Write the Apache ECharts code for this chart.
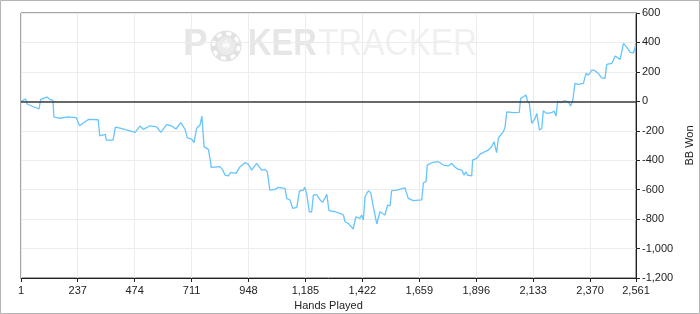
<!DOCTYPE html>
<html>
<head>
<meta charset="utf-8">
<script src="https://cdn.jsdelivr.net/npm/echarts@6/dist/echarts.min.js"></script>
<style>
html,body{margin:0;padding:0;background:#fff;}
#chart{width:700px;height:314px;}
</style>
</head>
<body>
<div id="chart"></div>
<script>
// ---- data ----
const hands = [1,20,26,76,83,109,123,134,138,162,197,231,245,259,283,322,329,352,356,384,394,418,446,476,496,510,538,566,583,608,628,646,666,684,693,712,721,732,746,754,763,781,791,792,829,841,850,864,874,896,913,933,947,961,982,1003,1017,1026,1037,1058,1072,1100,1107,1121,1132,1149,1160,1176,1182,1190,1201,1211,1218,1232,1246,1257,1274,1283,1308,1329,1343,1350,1363,1384,1395,1412,1419,1426,1433,1447,1457,1468,1482,1495,1516,1527,1537,1544,1565,1599,1613,1634,1669,1676,1687,1692,1711,1738,1759,1780,1794,1808,1822,1836,1845,1853,1859,1877,1881,1898,1912,1933,1946,1960,1970,1981,1988,1995,2009,2016,2023,2051,2075,2081,2092,2103,2109,2117,2127,2141,2148,2159,2169,2175,2189,2210,2220,2228,2235,2248,2262,2279,2289,2298,2307,2321,2342,2353,2363,2377,2390,2404,2418,2432,2439,2460,2467,2474,2495,2509,2523,2537,2551,2558,2561];
const bbWon = [0,16,-18,-52,14,29,11,7,-105,-115,-105,-111,-166,-149,-122,-125,-234,-224,-263,-263,-175,-183,-197,-211,-168,-190,-166,-173,-211,-156,-168,-188,-145,-190,-247,-258,-281,-183,-161,-100,-308,-326,-419,-448,-444,-467,-501,-507,-482,-489,-444,-417,-426,-467,-421,-467,-462,-478,-603,-598,-584,-591,-659,-670,-727,-720,-609,-603,-584,-625,-750,-750,-636,-636,-670,-686,-632,-743,-750,-761,-772,-818,-829,-867,-784,-795,-772,-806,-648,-607,-621,-720,-833,-750,-772,-704,-711,-607,-603,-587,-659,-675,-670,-553,-546,-433,-417,-410,-433,-439,-421,-448,-462,-467,-501,-478,-501,-507,-399,-387,-358,-342,-331,-308,-274,-349,-249,-236,-206,-175,-71,-77,-75,20,31,43,4,-14,-149,-115,-82,-195,-183,-64,-82,-77,-66,-100,2,-10,4,-3,-32,9,122,115,122,190,177,213,208,190,160,156,251,258,281,308,285,394,367,333,330,371,378];
const xTicks = [1,237,474,711,948,1185,1422,1659,1896,2133,2370,2561];
const yMin = -1200, yMax = 600, yStep = 200;
const xTitle = 'Hands Played';
const yTitle = 'BB Won';

const seriesData = hands.map((h, i) => [h, bbWon[i]]);
const fmt = v => Number(v).toLocaleString('en-US');
const FONT = 'Liberation Sans, Arial, sans-serif';

const chart = echarts.init(document.getElementById('chart'), null, {renderer: 'canvas'});
chart.setOption({
  animation: false,
  backgroundColor: '#fff',
  grid: {left: 21, right: 64, top: 13, bottom: 36, containLabel: false, outerBoundsMode: 'none', show: true,
         borderColor: '#4a4a4a', borderWidth: 1, backgroundColor: 'transparent'},
  graphic: [
    {type: 'rect', z: -20, silent: true, shape: {x: 0.5, y: 0.5, width: 699, height: 313},
     style: {fill: 'none', stroke: '#b4b4b4', lineWidth: 1}},
    {type: 'group', z: -10, silent: true, children: [
      {type: 'text', x: 183, y: 45, style: {text: 'P', font: 'bold 37px ' + FONT, fill: '#e6e6e6', verticalAlign: 'middle'}},
      {type: 'circle', shape: {cx: 226, cy: 46, r: 15.5}, style: {fill: '#e2e2e2'}},
      {type: 'circle', shape: {cx: 226, cy: 46, r: 12.5}, style: {fill: 'none', stroke: '#ffffff', lineWidth: 3.5, lineDash: [5, 4.8]}},
      {type: 'circle', shape: {cx: 226, cy: 46, r: 9}, style: {fill: '#ebebeb'}},
      {type: 'text', x: 226, y: 46, style: {text: '\u2660', font: '13px DejaVu Sans', fill: '#fbfbfb', align: 'center', verticalAlign: 'middle'}},
      {type: 'text', x: 248, y: 45, scaleX: 0.88, style: {text: 'KER', font: 'bold 37px ' + FONT, fill: '#e6e6e6', verticalAlign: 'middle'}},
      {type: 'text', x: 318, y: 45, scaleX: 0.9, style: {text: 'TRACKER', font: '37px ' + FONT, fill: '#f0f0f0', verticalAlign: 'middle'}}
    ]}
  ],
  xAxis: {
    type: 'value', min: xTicks[0], max: xTicks[xTicks.length - 1],
    name: xTitle, nameLocation: 'middle', nameGap: 22,
    nameTextStyle: {fontFamily: FONT, fontSize: 11, color: '#222'},
    axisLine: {show: true, onZero: false, lineStyle: {color: '#222', width: 1}},
    axisTick: {show: true, length: 4, inside: false, customValues: xTicks, lineStyle: {color: '#222'}},
    axisLabel: {customValues: xTicks, formatter: fmt, fontFamily: FONT, fontSize: 11, color: '#222', margin: 7,
                showMinLabel: true, showMaxLabel: true, hideOverlap: false},
    splitLine: {show: true, lineStyle: {color: '#ececec', width: 1}}
  },
  yAxis: {
    type: 'value', position: 'right', min: yMin, max: yMax, interval: yStep,
    name: yTitle, nameLocation: 'middle', nameGap: 44, nameRotate: 90,
    nameTextStyle: {fontFamily: FONT, fontSize: 11, color: '#222'},
    axisLine: {show: true, lineStyle: {color: '#222', width: 1}},
    axisTick: {show: true, length: 4, inside: false, lineStyle: {color: '#222'}},
    axisLabel: {formatter: fmt, fontFamily: FONT, fontSize: 11, color: '#222', margin: 6},
    splitLine: {show: true, lineStyle: {color: '#ececec', width: 1}}
  },
  series: [{
    type: 'line', data: seriesData, showSymbol: false, symbol: 'none',
    lineStyle: {color: '#66c4ff', width: 1.3}, z: 3,
    markLine: {silent: true, symbol: ['none', 'none'], label: {show: false},
      lineStyle: {color: '#3a3a3a', width: 1.6, type: 'solid'},
      data: [{yAxis: 0}], animation: false}
  }]
});
</script>
</body>
</html>
